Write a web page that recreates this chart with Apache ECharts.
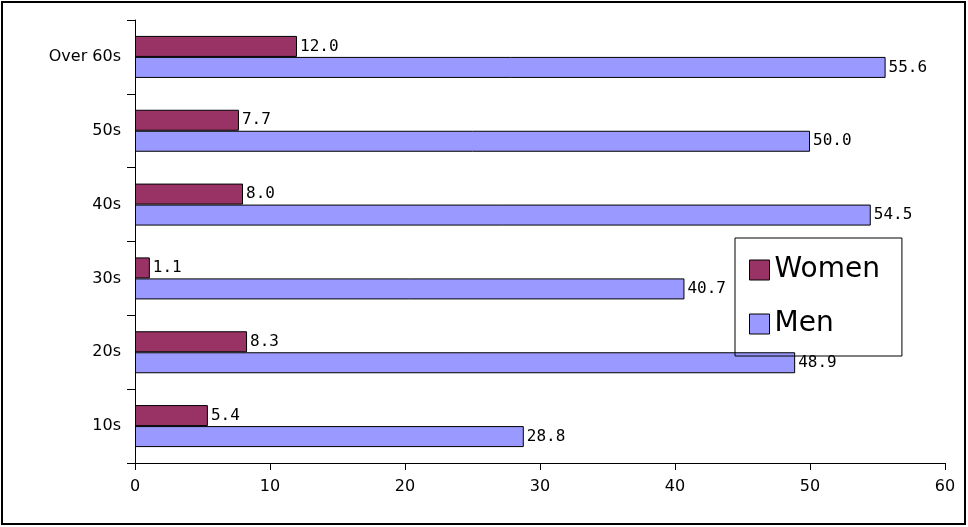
<!DOCTYPE html>
<html><head><meta charset="utf-8">
<script src="https://cdn.jsdelivr.net/npm/echarts@6/dist/echarts.min.js"></script>
<style>html,body{margin:0;padding:0;background:#fff}#c{width:968px;height:527px}</style>
</head><body><div id="c"></div>
<script>
var categories = ['10s', '20s', '30s', '40s', '50s', 'Over 60s'];
var women = [5.4, 8.3, 1.1, 8.0, 7.7, 12.0];
var men = [28.8, 48.9, 40.7, 54.5, 50.0, 55.6];

var font = 'DejaVu Sans Mono';
var chart = echarts.init(document.getElementById('c'));
chart.setOption({
    animation: false,
    textStyle: {fontFamily: font},
    graphic: [{
        type: 'rect', shape: {x: 2, y: 2, width: 963, height: 522},
        style: {fill: 'none', stroke: '#000', lineWidth: 2}
    }],
    grid: {left: 135, right: 23, top: 20, bottom: 64},
    legend: {
        data: ['Women', 'Men'],
        orient: 'vertical',
        left: 735, top: 238,
        padding: [18, 22, 18, 14],
        itemGap: 26,
        itemWidth: 20, itemHeight: 20,
        icon: 'rect',
        borderColor: '#000', borderWidth: 1,
        textStyle: {fontSize: 28, fontFamily: 'DejaVu Sans', color: '#000'},
        itemStyle: {borderColor: '#000', borderWidth: 1}
    },
    xAxis: {
        type: 'value', min: 0, max: 60, interval: 10,
        splitLine: {show: false},
        axisLine: {show: true, lineStyle: {color: '#000'}},
        axisTick: {show: true, length: 7, inside: false, lineStyle: {color: '#000'}},
        axisLabel: {color: '#000', fontSize: 16, margin: 16, fontFamily: 'DejaVu Sans'}
    },
    yAxis: {
        type: 'category', data: categories,
        axisLine: {show: true, lineStyle: {color: '#000'}},
        axisTick: {show: true, interval: 0, length: 8, lineStyle: {color: '#000'}},
        axisLabel: {color: '#000', fontSize: 16, margin: 14, fontFamily: 'DejaVu Sans'}
    },
    series: [{
        name: 'Women', type: 'bar', data: women,
        barWidth: 21, barGap: '0%',
        itemStyle: {color: '#993366', borderColor: '#000', borderWidth: 1},
        label: {show: true, position: 'right', distance: 3, color: '#000', fontSize: 16, fontFamily: font,
            formatter: function (p) { return p.value.toFixed(1); }}
    }, {
        name: 'Men', type: 'bar', data: men,
        barWidth: 21,
        itemStyle: {color: '#9999ff', borderColor: '#000', borderWidth: 1},
        label: {show: true, position: 'right', distance: 3, color: '#000', fontSize: 16, fontFamily: font,
            formatter: function (p) { return p.value.toFixed(1); }}
    }]
});
</script></body></html>
